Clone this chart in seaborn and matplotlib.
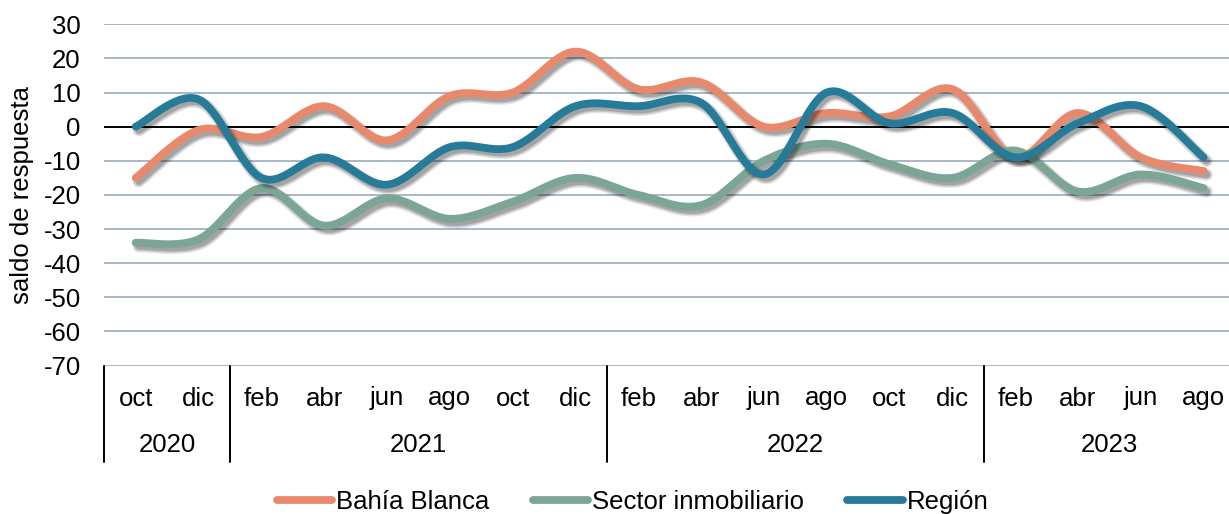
import numpy as np
import pandas as pd
import matplotlib
matplotlib.use("Agg")
import matplotlib.pyplot as plt
import matplotlib.patheffects as pe
from matplotlib.lines import Line2D
import seaborn as sns

months = ["oct", "dic",
          "feb", "abr", "jun", "ago", "oct", "dic",
          "feb", "abr", "jun", "ago", "oct", "dic",
          "feb", "abr", "jun", "ago"]
years = ["2020", "2021", "2022", "2023"]
year_counts = [2, 6, 6, 4]

bahia_blanca = [-15, -1, -3, 6, -4, 9, 10, 22, 11, 13, 0, 4, 3, 11, -9, 4, -9, -13]
sector_inmob = [-34, -33, -18, -29, -21, -27, -22, -15, -20, -23, -10, -5, -11, -15, -7, -19, -14, -18]
region = [0, 8, -15, -9, -17, -6, -6, 6, 6, 7, -14, 10, 1, 4, -9, 1, 6, -9]

series_names = ["Bahía Blanca", "Sector inmobiliario", "Región"]
series_values = [bahia_blanca, sector_inmob, region]
colors = ["#E8896B", "#7BA594", "#267B98"]

y_ticks = list(range(-70, 31, 10))


def smooth(vals, n=30):
    """Excel-like smoothed rendering (cubic Bezier through the points)."""
    p = np.column_stack([np.arange(len(vals), dtype=float), np.asarray(vals, float)])
    m = len(p)
    xs, ys = [], []
    for i in range(m - 1):
        p0 = p[i - 1] if i > 0 else p[i]
        p1 = p[i]
        p2 = p[i + 1]
        p3 = p[i + 2] if i + 2 < m else p[i + 1]
        c1 = p1 + (p2 - p0) / 6.0
        c2 = p2 - (p3 - p1) / 6.0
        t = np.linspace(0, 1, n, endpoint=(i == m - 2))[:, None]
        b = ((1 - t) ** 3) * p1 + 3 * ((1 - t) ** 2) * t * c1 + 3 * (1 - t) * t ** 2 * c2 + t ** 3 * p2
        xs.append(b[:, 0]); ys.append(b[:, 1])
    return np.concatenate(xs), np.concatenate(ys)


frames = []
for name, vals in zip(series_names, series_values):
    x, y = smooth(vals)
    frames.append(pd.DataFrame({"x": x, "y": y, "serie": name, "order": np.arange(len(x))}))
df = pd.concat(frames, ignore_index=True)

sns.set_style("white")
plt.rcParams["font.family"] = ["Liberation Sans", "DejaVu Sans"]
plt.rcParams["text.color"] = "black"
plt.rcParams["ytick.color"] = "black"
plt.rcParams["ytick.labelcolor"] = "black"
FS = 18.5

W, H = 1229, 514
fig = plt.figure(figsize=(W / 100, H / 100), dpi=100)
left_px, right_px, top_px, bot_px = 104.3, 1235.0, 24.3, 365.5
ax = fig.add_axes([left_px / W, 1 - bot_px / H, (right_px - left_px) / W, (bot_px - top_px) / H])

ax.set_ylim(-70, 30)
ax.set_xlim(-0.5, len(months) - 0.5)
for v in y_ticks:
    ax.axhline(v, color="black" if v == 0 else "#A8B7C9", lw=1.4, zorder=1)

sns.lineplot(data=df, x="x", y="y", hue="serie", hue_order=series_names,
             palette=colors, sort=False, estimator=None, lw=5.6, ax=ax,
             legend=False, zorder=3)

for line in ax.get_lines():
    if len(line.get_xdata()) > 10:
        line.set_solid_capstyle("round")
        line.set_path_effects([
            pe.SimpleLineShadow(offset=(2.2, -2.6), shadow_color="black", alpha=0.10, linewidth=9.0),
            pe.SimpleLineShadow(offset=(2.2, -2.6), shadow_color="black", alpha=0.14, linewidth=7.0),
            pe.SimpleLineShadow(offset=(2.2, -2.6), shadow_color="black", alpha=0.16, linewidth=5.0),
            pe.Normal(),
        ])

for s in ax.spines.values():
    s.set_visible(False)
ax.set_yticks(y_ticks)
ax.set_yticklabels([str(v) for v in y_ticks], fontsize=FS, color="black")
ax.tick_params(axis="y", length=0, pad=17)
ax.set_xticks([])
ax.set_xlabel("")
ax.set_ylabel("")

axh = bot_px - top_px
tr = ax.get_xaxis_transform()
for i, m in enumerate(months):
    ax.text(i, -33 / axh, m, transform=tr, ha="center", va="center", fontsize=FS, color="black")
start = 0
bounds = [-0.5]
for yname, c in zip(years, year_counts):
    ax.text(start + (c - 1) / 2, -79 / axh, yname, transform=tr, ha="center", va="center",
            fontsize=FS, color="black")
    start += c
    bounds.append(start - 0.5)
for b in bounds[:-1]:
    ax.plot([b, b], [0, -96 / axh], transform=tr, color="black", lw=1.4, clip_on=False)

fig.text(22 / W, 1 - 195 / H, "saldo de respuesta", rotation=90, ha="center", va="center",
         fontsize=FS, color="black")

handles = [Line2D([], [], color=c, lw=5.6, solid_capstyle="round") for c in colors]
leg = fig.legend(handles, series_names, loc="center", bbox_to_anchor=(632.5 / W, 1 - 502 / H),
                 ncol=3, frameon=False, fontsize=FS, handlelength=2.15, handletextpad=0.15,
                 columnspacing=1.7, borderaxespad=0)
for t in leg.get_texts():
    t.set_color("black")

fig.savefig("out.png", dpi=100)
